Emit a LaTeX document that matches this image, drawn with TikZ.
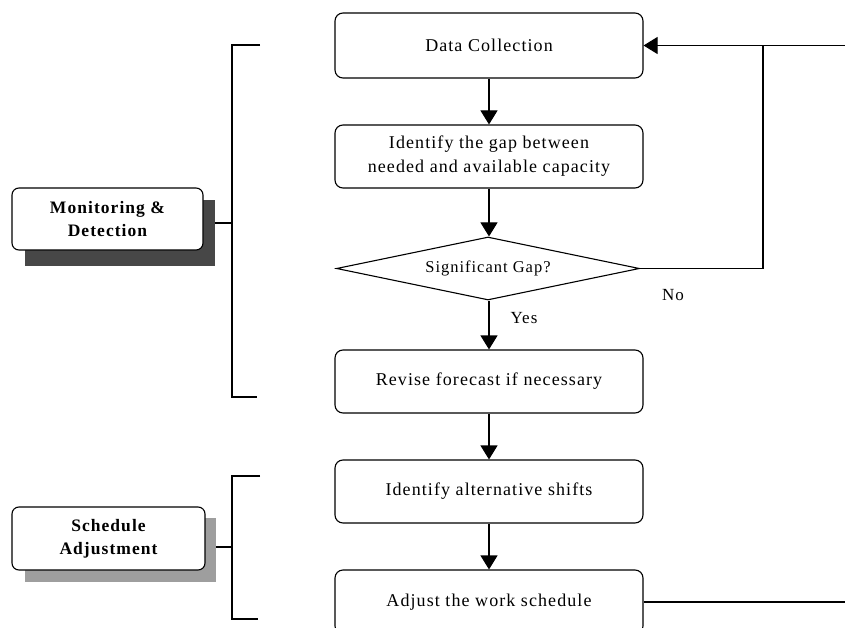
\documentclass[tikz,border=0pt]{standalone}
\usepackage{fontspec}
\setmainfont{Liberation Serif}
\newfontfamily\boxfont[LetterSpace=6]{Liberation Serif}
\usetikzlibrary{shapes.geometric,arrows.meta}
\tikzset{
  procbox/.style={draw, line width=1.1pt, rounded corners=8pt, fill=white,
    minimum width=308pt, inner sep=0pt, align=center,
    font=\boxfont\fontsize{18}{24}\selectfont},
  decision/.style={draw, diamond, line width=1.1pt, minimum width=303pt,
    minimum height=63pt, aspect=4.8, inner sep=0pt,
    font=\boxfont\fontsize{16.5}{20}\selectfont},
  phasebox/.style={draw, line width=1.1pt, rounded corners=7pt, fill=white,
    align=center, inner sep=0pt,
    font=\boxfont\bfseries\fontsize{17.5}{23}\selectfont},
  flow/.style={line width=1.1pt, -{Triangle[width=17pt,length=14pt]}},
  plain/.style={line width=1.1pt},
  brk/.style={line width=1.1pt},
  lbl/.style={font=\boxfont\fontsize{17}{20}\selectfont}
}
\begin{document}
\begin{tikzpicture}[x=1pt,y=-1pt]
\useasboundingbox (0,0) rectangle (845,628);
\clip (0,0) rectangle (845,628);
% process boxes
\node[procbox, minimum height=65pt] (dc) at (489,45.5) {Data Collection};
\node[procbox, minimum height=63pt] (gap) at (489,156.5) {Identify the gap between\\needed and available capacity};
\node[decision] (sig) at (488,268.5) {Significant Gap?};
\node[procbox, minimum height=63pt] (rev) at (489,381.5) {Revise forecast if necessary};
\node[procbox, minimum height=63pt] (alt) at (489,491.5) {Identify alternative shifts};
\node[procbox, minimum height=64pt] (adj) at (489,602) {Adjust the work schedule};
% arrows
\draw[flow] (dc) -- (gap);
\draw[flow] (gap.south) -- (gap.south |- sig.north);
\draw[flow] (sig.south -| rev.north) -- (rev.north);
\draw[flow] (rev) -- (alt);
\draw[flow] (alt) -- (adj);
\node[lbl] (yes) at (524,318) {Yes};
\node[lbl] (no) at (673,295) {No};
% feedback
\coordinate (j) at (763,45.5);
\coordinate (r1) at (845,45.5);
\coordinate (r2) at (845,602);
\draw[plain] (sig.east) -| (j);
\draw[flow] (j) -- (dc.east);
\draw[plain] (j) -- (r1);
\draw[plain] (adj.east) -- (r2);
% phase boxes
\fill[black!72] (25,200) rectangle (215,266);
\node[phasebox, minimum width=191pt, minimum height=62pt] (mon) at (107.5,219) {Monitoring \&\\Detection};
\fill[black!38] (25,518) rectangle (216,582);
\node[phasebox, minimum width=193pt, minimum height=63pt] (sch) at (108.5,538.5) {Schedule\\Adjustment};
% brackets
\coordinate (b1t) at (232,45);
\coordinate (b1b) at (232,397);
\coordinate (b1m) at (232,223);
\coordinate (m1) at (215,223);
\draw[brk] (260,45) -- (b1t) -- (b1b) -- (257,397);
\draw[brk] (m1) -- (b1m);
\coordinate (b2t) at (232,476);
\coordinate (b2b) at (232,619);
\coordinate (b2m) at (232,547);
\coordinate (m2) at (216,547);
\draw[brk] (260,476) -- (b2t) -- (b2b) -- (258,619);
\draw[brk] (m2) -- (b2m);
\end{tikzpicture}
\end{document}
